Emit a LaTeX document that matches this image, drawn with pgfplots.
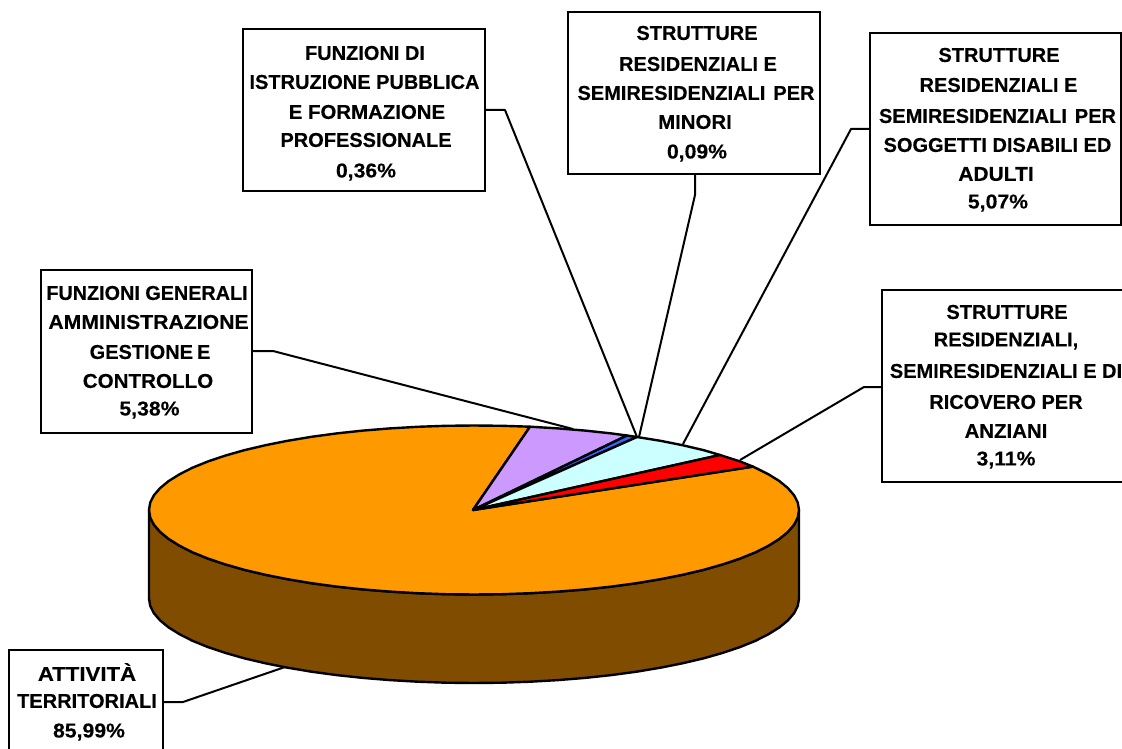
\documentclass[border=0pt]{standalone}
\usepackage{graphicx}
\usepackage{fontspec}
\setmainfont[BoldFeatures={FakeBold=0.25}]{Liberation Sans}
\usepackage{pgfplots}
\pgfplotsset{compat=1.18}
\definecolor{orangeT}{HTML}{FF9900}
\definecolor{brownS}{HTML}{804C00}
\definecolor{purpleS}{HTML}{CC99FF}
\definecolor{blueS}{HTML}{3366FF}
\definecolor{cyanS}{HTML}{CCFFFF}
\newcommand\sx[2]{\scalebox{#1}[1]{#2}}
\tikzset{
  pieslice/.style={draw=black, line width=1.8pt, line join=round},
  leader/.style={draw=black, line width=1.5pt, line join=round},
  lbox/.style={draw=black, line width=1.7pt, fill=white},
  lb/.style={font=\fontsize{15}{15}\selectfont\bfseries, anchor=center, inner sep=0pt},
}
\begin{document}
\begin{tikzpicture}
\path[use as bounding box] (0,0) rectangle (841.5pt,561.75pt);
\begin{axis}[
  scale only axis, width=841.5pt, height=561.75pt,
  xmin=0, xmax=1122, ymin=0, ymax=749, y dir=reverse,
  hide axis, clip=false, no markers,
]
% side wall
\addplot[pieslice, fill=brownS] coordinates {
(799,510)(797.8,517.4)(794.1,524.7)(787.9,531.9)(779.4,538.9)(768.5,545.7)(755.5,552.3)(740.2,558.5)(723.0,564.3)(703.8,569.8)(682.9,574.7)(660.4,579.2)(636.5,583.2)(611.3,586.6)(585.2,589.4)(558.1,591.6)(530.4,593.2)(502.3,594.2)(474,594.5)(445.7,594.2)(417.6,593.2)(389.9,591.6)(362.8,589.4)(336.7,586.6)(311.5,583.2)(287.6,579.2)(265.1,574.7)(244.2,569.8)(225.0,564.3)(207.8,558.5)(192.5,552.3)(179.5,545.7)(168.6,538.9)(160.1,531.9)(153.9,524.7)(150.2,517.4)(149,510)
(149,598.5)(150.2,605.9)(153.9,613.2)(160.1,620.4)(168.6,627.4)(179.5,634.2)(192.5,640.8)(207.8,647.0)(225.0,652.8)(244.2,658.3)(265.1,663.2)(287.6,667.7)(311.5,671.7)(336.7,675.1)(362.8,677.9)(389.9,680.1)(417.6,681.7)(445.7,682.7)(474,683)(502.3,682.7)(530.4,681.7)(558.1,680.1)(585.2,677.9)(611.3,675.1)(636.5,671.7)(660.4,667.7)(682.9,663.2)(703.8,658.3)(723.0,652.8)(740.2,647.0)(755.5,640.8)(768.5,634.2)(779.4,627.4)(787.9,620.4)(794.1,613.2)(797.8,605.9)(799,598.5)
} --cycle;
% orange slice
\addplot[pieslice, fill=orangeT] coordinates {
(473,510)(753,466.6)(768.5,474.3)(779.4,481.1)(787.9,488.1)(794.1,495.3)(797.8,502.6)(799,510)(797.8,517.4)(794.1,524.7)(787.9,531.9)(779.4,538.9)(768.5,545.7)(755.5,552.3)(740.2,558.5)(723.0,564.3)(703.8,569.8)(682.9,574.7)(660.4,579.2)(636.5,583.2)(611.3,586.6)(585.2,589.4)(558.1,591.6)(530.4,593.2)(502.3,594.2)(474,594.5)(445.7,594.2)(417.6,593.2)(389.9,591.6)(362.8,589.4)(336.7,586.6)(311.5,583.2)(287.6,579.2)(265.1,574.7)(244.2,569.8)(225.0,564.3)(207.8,558.5)(192.5,552.3)(179.5,545.7)(168.6,538.9)(160.1,531.9)(153.9,524.7)(150.2,517.4)(149,510)(150.2,502.6)(153.9,495.3)(160.1,488.1)(168.6,481.1)(179.5,474.3)(192.5,467.7)(207.8,461.5)(225.0,455.7)(244.2,450.2)(265.1,445.3)(287.6,440.8)(311.5,436.8)(336.7,433.4)(362.8,430.6)(389.9,428.4)(417.6,426.8)(445.7,425.8)(474,425.5)(502.3,425.8)(530,426.7)
} --cycle;
% purple
\addplot[pieslice, fill=purpleS] coordinates {
(473,510)(530,426.7)(558.1,428.4)(585.2,430.6)(611.3,433.4)(627,435.5)
} --cycle;
% blue
\addplot[pieslice, fill=blueS] coordinates {
(473,510)(627,435.5)(637,437)
} --cycle;
% cyan
\addplot[pieslice, fill=cyanS] coordinates {
(473,510)(637,437)(660.4,440.8)(682.9,445.3)(703.8,450.2)(720,455)
} --cycle;
% red
\addplot[pieslice, fill=red] coordinates {
(473,510)(720,455)(740.2,461.5)(753,466.6)
} --cycle;
% leaders
\addplot[leader] coordinates {(484,110)(505,110)(637,437)};
\addplot[leader] coordinates {(695,174)(695,195)(639,437)};
\addplot[leader] coordinates {(870,129)(851,129)(683,444)};
\addplot[leader] coordinates {(882,387)(864,387)(740,460)};
\addplot[leader] coordinates {(252,351)(273,351)(573,429)};
\addplot[leader] coordinates {(163,702)(183,702)(285,667)};
% boxes
\draw[lbox] (axis cs:243,29) rectangle (axis cs:485,191);
\draw[lbox] (axis cs:568,12) rectangle (axis cs:820,174);
\draw[lbox] (axis cs:870,33) rectangle (axis cs:1121,225);
\draw[lbox] (axis cs:1122,290) -- (axis cs:882,290) -- (axis cs:882,482) -- (axis cs:1122,482);
\draw[lbox] (axis cs:41,270) rectangle (axis cs:252,433);
\draw[lbox] (axis cs:9,749) -- (axis cs:9,650) -- (axis cs:163,650) -- (axis cs:163,749);
% labels
\node[lb] at (axis cs:365,53) {FUNZIONI DI};
\node[lb] at (axis cs:364.5,82) {ISTRUZIONE PUBBLICA};
\node[lb] at (axis cs:367,112) {\sx{1.02}{E FORMAZIONE}};
\node[lb] at (axis cs:366,140) {PROFESSIONALE};
\node[lb] at (axis cs:366,172) {\sx{1.06}{0,36\%}};
\node[lb] at (axis cs:697,33) {STRUTTURE};
\node[lb] at (axis cs:698,64) {RESIDENZIALI E};
\node[lb] at (axis cs:696,93) {SEMIRESIDENZIALI\hspace{6pt}PER};
\node[lb] at (axis cs:695,122) {\sx{1.02}{MINORI}};
\node[lb] at (axis cs:697,153) {\sx{1.06}{0,09\%}};
\node[lb] at (axis cs:999,55) {STRUTTURE};
\node[lb] at (axis cs:998.5,85) {RESIDENZIALI E};
\node[lb] at (axis cs:997.5,116) {SEMIRESIDENZIALI\hspace{6pt}PER};
\node[lb] at (axis cs:997.5,145) {SOGGETTI DISABILI ED};
\node[lb] at (axis cs:996,174) {\sx{1.05}{ADULTI}};
\node[lb] at (axis cs:998,203) {\sx{1.06}{5,07\%}};
\node[lb] at (axis cs:1007,312) {STRUTTURE};
\node[lb] at (axis cs:1006,341) {RESIDENZIALI,};
\node[lb] at (axis cs:1006,371) {SEMIRESIDENZIALI E DI};
\node[lb] at (axis cs:1006,402) {RICOVERO PER};
\node[lb] at (axis cs:1006,431) {\sx{1.02}{ANZIANI}};
\node[lb] at (axis cs:1006,460) {\sx{1.06}{3,11\%}};
\node[lb] at (axis cs:147,293) {\sx{0.99}{FUNZIONI GENERALI}};
\node[lb] at (axis cs:148.5,322) {\sx{1.06}{AMMINISTRAZIONE}};
\node[lb] at (axis cs:150,352) {GESTIONE\hspace{3pt}E};
\node[lb] at (axis cs:148,381) {\sx{1.03}{CONTROLLO}};
\node[lb] at (axis cs:149.5,410) {\sx{1.06}{5,38\%}};
\node[lb] at (axis cs:87,672) {\sx{1.11}{ATTIVITÀ}};
\node[lb] at (axis cs:87,701) {TERRITORIALI};
\node[lb] at (axis cs:89,732) {\sx{1.06}{85,99\%}};
\end{axis}
\end{tikzpicture}
\end{document}
